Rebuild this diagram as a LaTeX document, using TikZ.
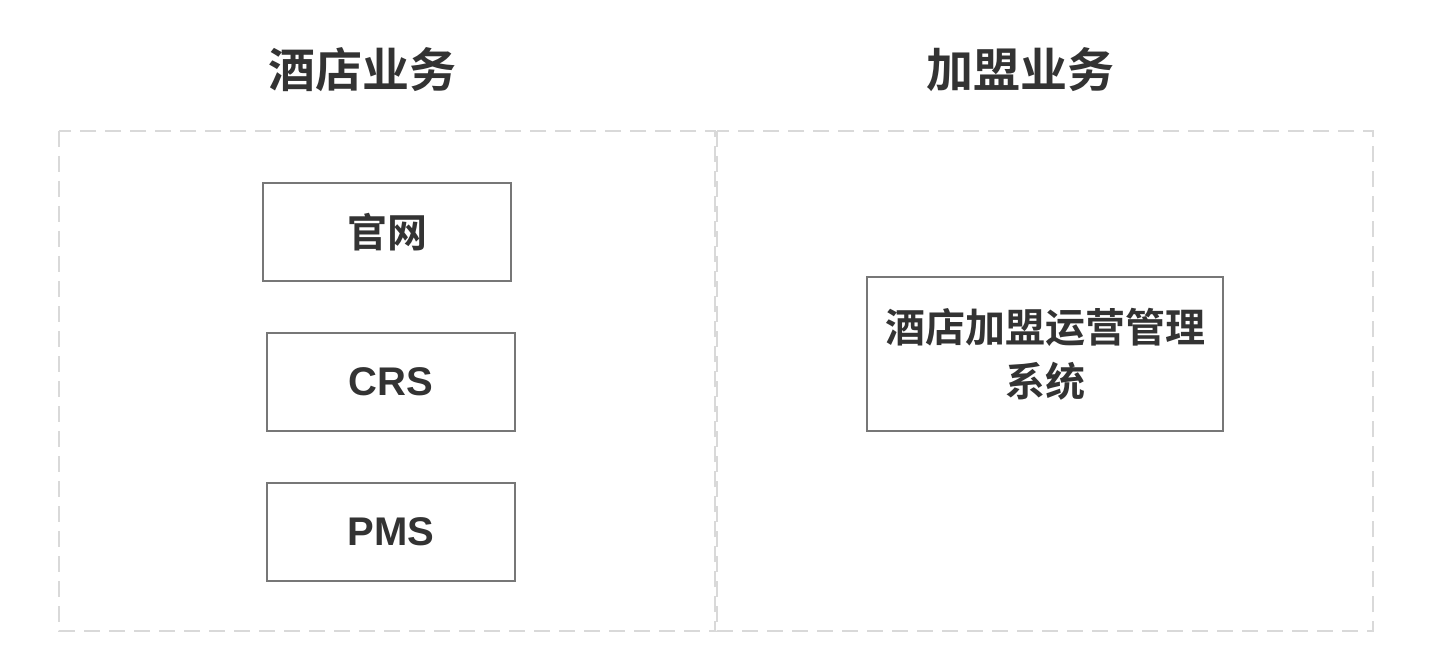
\documentclass[tikz,border=0pt]{standalone}
\usepackage{fontspec}
\setmainfont{Liberation Sans}
\newfontfamily\cjk{Noto Sans CJK SC}[BoldFont={* Bold}]
\definecolor{txt}{HTML}{333333}
\definecolor{frame}{HTML}{D9D9D9}
\definecolor{boxline}{HTML}{777777}
\begin{document}
\begin{tikzpicture}[x=1pt,y=-1pt,
  group/.style={draw=frame,line width=2pt,dash pattern=on 16pt off 9pt},
  sysbox/.style={draw=boxline,line width=2pt,fill=white,inner sep=0pt,text=txt,font=\fontsize{40}{56}\selectfont\bfseries,align=center},
  title/.style={text=txt,font=\cjk\fontsize{47}{56}\selectfont\bfseries,inner sep=0pt}]
\useasboundingbox[fill=white] (0,0) rectangle (1434,660);
\draw[group] (59,131) rectangle (715,631);
\draw[group] (717,131) rectangle (1373,631);
\node[title] (t1) at (362,70) {酒店业务};
\node[title] (t2) at (1020,70) {加盟业务};
\node[sysbox,minimum width=248pt,minimum height=98pt] (gw) at (387,232) {\cjk 官网};
\node[sysbox,minimum width=248pt,minimum height=98pt] (crs) at (391,382) {CRS};
\node[sysbox,minimum width=248pt,minimum height=98pt] (pms) at (391,532) {PMS};
\node[sysbox,minimum width=356pt,minimum height=154pt] (fr) at (1045,354) {\cjk 酒店加盟运营管理\\[-2pt]\cjk 系统};
\end{tikzpicture}
\end{document}
